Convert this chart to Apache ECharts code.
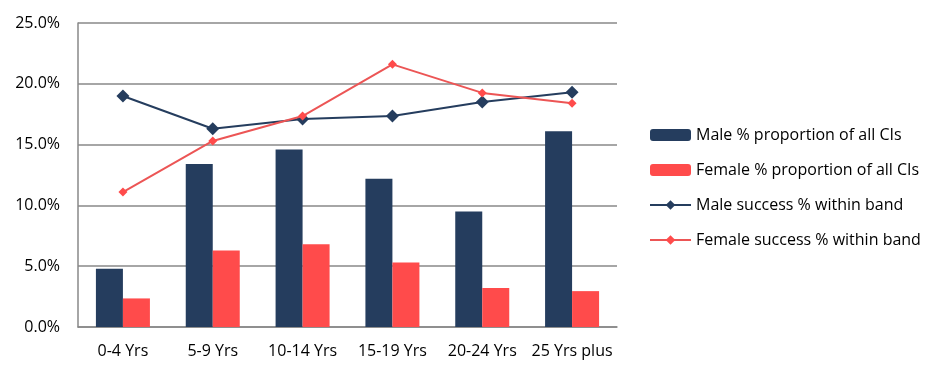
<!DOCTYPE html>
<html>
<head>
<meta charset="utf-8">
<script src="https://cdn.jsdelivr.net/npm/echarts@6/dist/echarts.min.js"></script>
<style>
  html, body { margin: 0; padding: 0; background: #fff; }
  #chart { width: 945px; height: 376px; }
</style>
</head>
<body>
<div id="chart"></div>
<script>
  const categories = ['0-4 Yrs', '5-9 Yrs', '10-14 Yrs', '15-19 Yrs', '20-24 Yrs', '25 Yrs plus'];
  const maleProportion = [4.8, 13.4, 14.6, 12.2, 9.5, 16.1];
  const femaleProportion = [2.35, 6.3, 6.8, 5.3, 3.2, 2.95];
  const maleSuccess = [19.0, 16.3, 17.1, 17.35, 18.5, 19.3];
  const femaleSuccess = [11.1, 15.3, 17.35, 21.6, 19.25, 18.4];

  const font = '"Open Sans", "Noto Sans", sans-serif';
  const chart = echarts.init(document.getElementById('chart'));

  let option = {
    animation: false,
    textStyle: { fontFamily: font },
    grid: { left: 78, right: 328, top: 23, bottom: 49 },
    legend: {
      orient: 'vertical',
      left: 649,
      top: 127,
      padding: 0,
      itemWidth: 41,
      itemHeight: 12,
      itemGap: 19,
      textStyle: { fontSize: 16, color: '#000', fontFamily: font },
      data: [
        'Male % proportion of all CIs',
        'Female % proportion of all CIs',
        'Male success % within band',
        'Female success % within band'
      ]
    },
    xAxis: {
      type: 'category',
      data: categories,
      axisTick: { show: false },
      axisLine: { lineStyle: { color: '#888', width: 1.5 } },
      axisLabel: { color: '#000', fontSize: 16, margin: 16, interval: 0 }
    },
    yAxis: {
      type: 'value',
      min: 0,
      max: 25,
      interval: 5,
      axisLine: { show: true, lineStyle: { color: '#888', width: 1.5 } },
      axisTick: { show: false },
      splitLine: { lineStyle: { color: '#888', width: 1.5 } },
      axisLabel: {
        color: '#000',
        fontSize: 16,
        margin: 18,
        formatter: v => v.toFixed(1) + '%'
      }
    },
    series: [
      {
        name: 'Male % proportion of all CIs',
        type: 'bar',
        data: maleProportion,
        barWidth: 27,
        barGap: '0%',
        itemStyle: { color: '#253D5E' }
      },
      {
        name: 'Female % proportion of all CIs',
        type: 'bar',
        data: femaleProportion,
        barWidth: 27,
        barGap: '0%',
        itemStyle: { color: '#FF4B4B' }
      },
      {
        name: 'Male success % within band',
        type: 'line',
        data: maleSuccess,
        symbol: 'diamond',
        symbolSize: 13,
        lineStyle: { color: '#253D5E', width: 2 },
        itemStyle: { color: '#253D5E' },
        z: 5
      },
      {
        name: 'Female success % within band',
        type: 'line',
        data: femaleSuccess,
        symbol: 'diamond',
        symbolSize: 9,
        lineStyle: { color: '#EC5555', width: 2 },
        itemStyle: { color: '#FF4B4B' },
        z: 6
      }
    ]
  };
  chart.setOption(option);
</script>
</body>
</html>
